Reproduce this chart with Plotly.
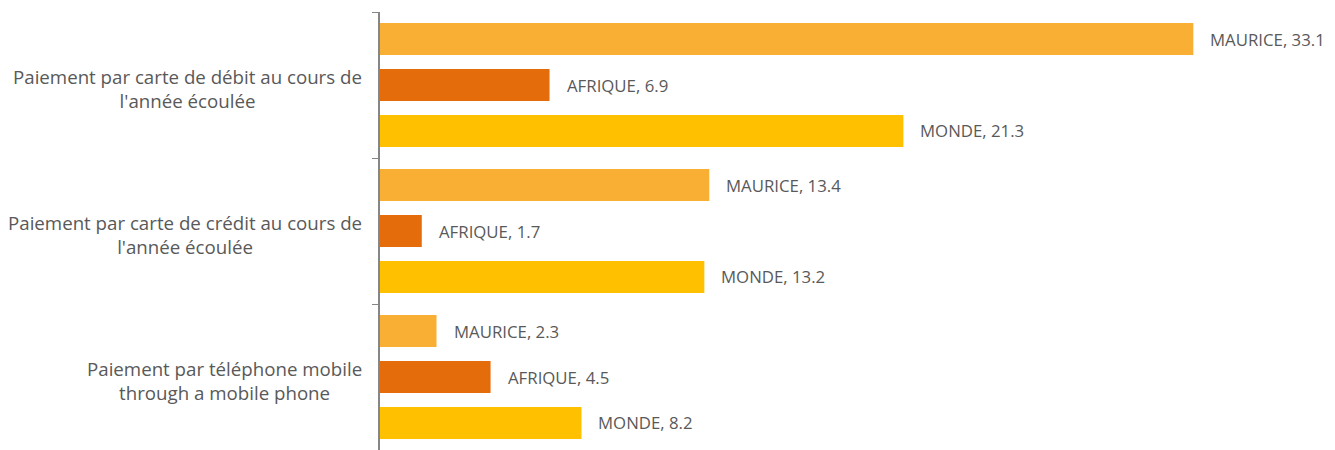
import plotly.graph_objects as go

categories = [
    "Paiement par carte de débit au cours de<br>l'année écoulée",
    "Paiement par carte de crédit au cours de<br>l'année écoulée",
    "Paiement par téléphone mobile<br>through a mobile phone",
]
series_names = ["MAURICE", "AFRIQUE", "MONDE"]
maurice = [33.1, 13.4, 2.3]
afrique = [6.9, 1.7, 4.5]
monde = [21.3, 13.2, 8.2]
colors = ["#F8AF33", "#E46C0A", "#FFC000"]

values = [maurice, afrique, monde]
pos = list(range(len(categories)))
FONT = "Open Sans, sans-serif"
GREY = "#595959"
BARGAP = 0.055

fig = go.Figure()
for name, vals, col in zip(series_names, values, colors):
    fig.add_trace(go.Bar(
        y=pos, x=vals, orientation="h", name=name,
        marker=dict(color=col, line=dict(width=0)),
        hoverinfo="skip",
    ))

annotations = []
n = len(series_names)
slot = (1 - BARGAP) / n
for i, (name, vals) in enumerate(zip(series_names, values)):
    for p, v in zip(pos, vals):
        annotations.append(dict(
            x=v, xref="x", y=p + (i - (n - 1) / 2) * slot, yref="y",
            text=f"{name}, {v}", showarrow=False,
            xanchor="left", xshift=15,
            font=dict(family=FONT, size=16.8, color=GREY),
        ))
for p, c in zip(pos, categories):
    annotations.append(dict(
        x=0, xref="x", y=p, yref="y", text=c, showarrow=False,
        xanchor="right", xshift=-16, yshift=-3, align="center",
        font=dict(family=FONT, size=18.7, color=GREY),
    ))

fig.update_layout(
    width=1327, height=442,
    margin=dict(l=372, r=95, t=4, b=0),
    paper_bgcolor="white", plot_bgcolor="white",
    barmode="group", bargap=BARGAP, bargroupgap=0.3,
    showlegend=False,
    annotations=annotations,
    xaxis=dict(range=[0, 35], visible=False),
    yaxis=dict(
        range=[2.5, -0.5], tickvals=[-0.5, 0.5, 1.5, 2.5], ticktext=["", "", "", ""],
        ticks="outside", ticklen=6, tickcolor="#868686", tickwidth=1,
        showline=True, linecolor="#868686", linewidth=1.5, showgrid=False, zeroline=False,
    ),
)
fig.write_html("out.html")
